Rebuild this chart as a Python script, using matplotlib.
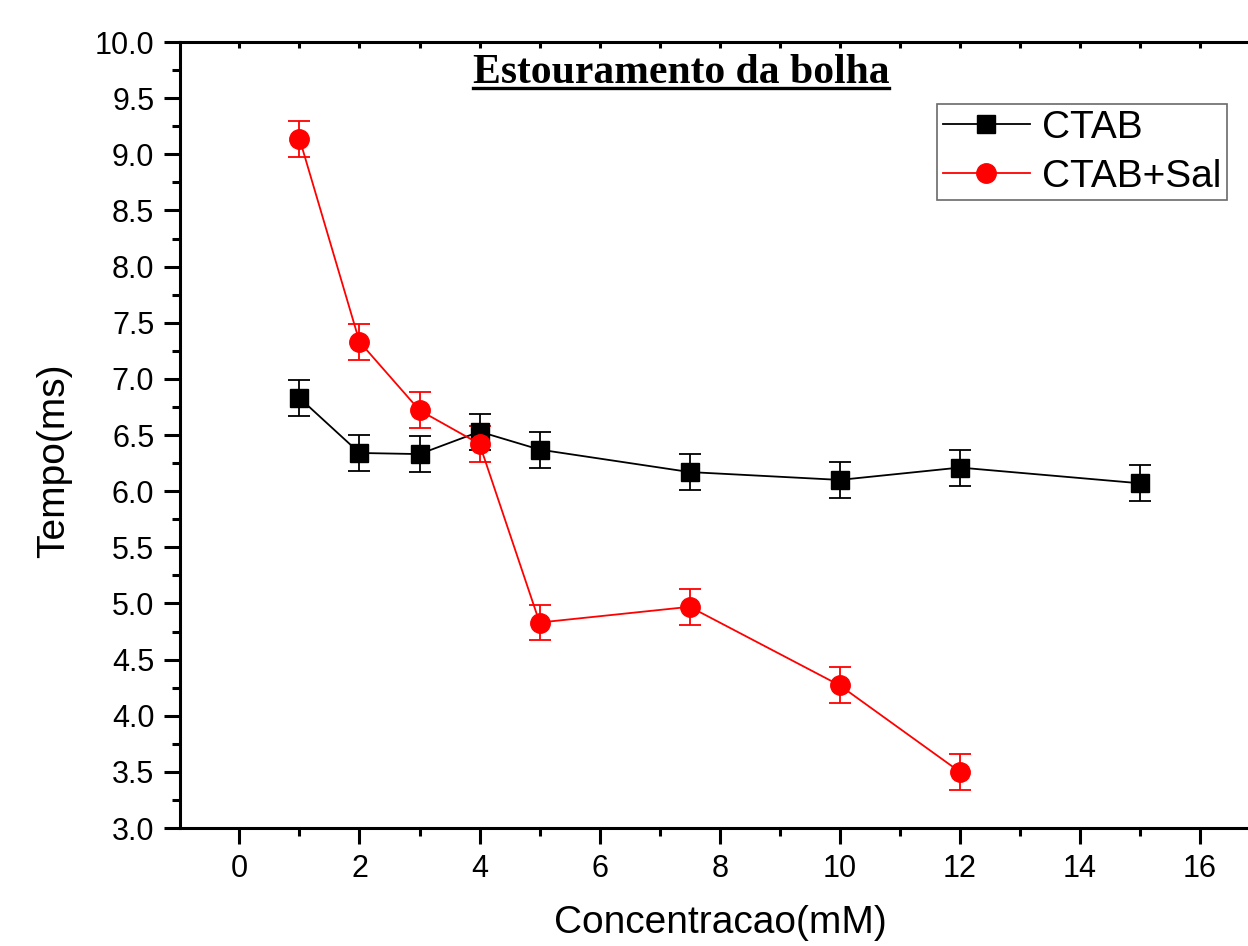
import matplotlib
matplotlib.use("Agg")
import matplotlib.pyplot as plt
from matplotlib.ticker import MultipleLocator
from matplotlib.lines import Line2D

plt.rcParams['font.family'] = ['Liberation Sans', 'DejaVu Sans']

# dados
conc_ctab = [1, 2, 3, 4, 5, 7.5, 10, 12, 15]
tempo_ctab = [6.83, 6.34, 6.33, 6.53, 6.37, 6.17, 6.10, 6.21, 6.07]
err_ctab = [0.16, 0.16, 0.16, 0.16, 0.16, 0.16, 0.16, 0.16, 0.16]

conc_sal = [1, 2, 3, 4, 5, 7.5, 10, 12]
tempo_sal = [9.14, 7.33, 6.72, 6.42, 4.83, 4.97, 4.27, 3.50]
err_sal = [0.16, 0.16, 0.16, 0.16, 0.16, 0.16, 0.16, 0.16]

fig = plt.figure(figsize=(12.48, 9.46), dpi=100)
ax = fig.add_axes([180/1248, 118/946, 1080/1248, 786/946])

ax.errorbar(conc_ctab, tempo_ctab, yerr=err_ctab, color='black', marker='s',
            markersize=13, linewidth=1.3, capsize=8, elinewidth=1.3,
            capthick=1.3, label='CTAB')
ax.errorbar(conc_sal, tempo_sal, yerr=err_sal, color='red', marker='o',
            markersize=14, linewidth=1.3, capsize=8, elinewidth=1.3,
            capthick=1.3, label='CTAB+Sal')

ax.set_xlim(-0.99, 17)
ax.set_ylim(3.0, 10.0)
ax.xaxis.set_major_locator(MultipleLocator(2))
ax.xaxis.set_minor_locator(MultipleLocator(1))
ax.yaxis.set_major_locator(MultipleLocator(0.5))
ax.yaxis.set_minor_locator(MultipleLocator(0.25))
ax.yaxis.set_major_formatter(plt.FormatStrFormatter('%.1f'))

for s in ax.spines.values():
    s.set_linewidth(2.2)
ax.tick_params(which='both', direction='out', width=2.2, labelsize=22, pad=7)
ax.tick_params(which='major', length=11.5)
ax.tick_params(which='minor', length=5.5)
ax.tick_params(axis='x', which='both', top=True)
# ticks do topo para dentro
for t in ax.xaxis.get_major_ticks() + ax.xaxis.get_minor_ticks():
    t.tick2line.set_marker(3)
    t.tick2line.set_markersize(4)

ax.set_xlabel('Concentracao(mM)', fontsize=28, labelpad=15)
ax.set_ylabel('Tempo(ms)', fontsize=28)
ax.yaxis.set_label_coords(-0.1, 0.467)

handles = [Line2D([], [], color='black', marker='s', markersize=13, linewidth=1.3),
           Line2D([], [], color='red', marker='o', markersize=14, linewidth=1.3)]
leg = ax.legend(handles, ['CTAB', 'CTAB+Sal'], fontsize=28, loc='upper left',
                bbox_to_anchor=(937/1248, 1 - 104/946), bbox_transform=fig.transFigure,
                frameon=True, fancybox=False, edgecolor='#444444', borderpad=0.15,
                handlelength=2.24, handletextpad=0.3, labelspacing=0.33,
                borderaxespad=0)
leg.get_frame().set_linewidth(1.2)

title = fig.text(681/1248, 1 - 83/946, 'Estouramento da bolha', ha='center', va='baseline',
                 fontsize=30, fontweight='bold', family='Liberation Serif')
fig.canvas.draw()
bb = title.get_window_extent().transformed(fig.transFigure.inverted())
fig.add_artist(Line2D([bb.x0, bb.x1], [1 - 88.5/946, 1 - 88.5/946],
                      color='black', linewidth=2.4, transform=fig.transFigure))

fig.savefig('out.png', dpi=100)
